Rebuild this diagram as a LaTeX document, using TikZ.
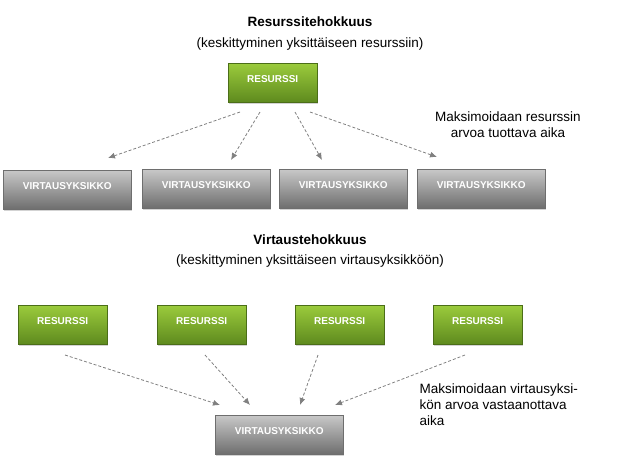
\documentclass[tikz,border=0pt]{standalone}
\usepackage{fontspec}
\setmainfont{Liberation Sans}
\usetikzlibrary{shadows,arrows.meta}
\definecolor{gA}{HTML}{9BCB3C}\definecolor{gB}{HTML}{5E8A1E}
\definecolor{sA}{HTML}{C8C8C8}\definecolor{sB}{HTML}{6E6E6E}
\tikzset{
 res/.style={minimum width=89pt,minimum height=39pt,top color=gA,bottom color=gB,draw=gB!80!black,line width=0.4pt,drop shadow={opacity=0.35,shadow xshift=1pt,shadow yshift=-2pt},font=\fontsize{10}{11}\selectfont\bfseries,text=white,anchor=north west,inner sep=0pt},
 vir/.style={minimum width=128pt,minimum height=39pt,top color=sA,bottom color=sB,draw=sB,line width=0.4pt,drop shadow={opacity=0.35,shadow xshift=1pt,shadow yshift=-2pt},font=\fontsize{10}{11}\selectfont\bfseries,text=white,anchor=north west,inner sep=0pt},
 arr/.style={densely dashed,draw=gray,line width=0.8pt,-{Latex[length=7pt,width=6pt]}},
 txt/.style={font=\fontsize{13.5}{16}\selectfont,align=center}
}
\begin{document}
\begin{tikzpicture}[x=1pt,y=-1pt]
\useasboundingbox (0,0) rectangle (620,474);
\node[txt,font=\fontsize{13.5}{16}\selectfont\bfseries] (t1) at (310,22) {Resurssitehokkuus};
\node[txt] (s1) at (310,44) {(keskittyminen yksittäiseen resurssiin)};
\node[res] (r0) at (228,63) {\raisebox{8pt}{RESURSSI}};
\node[txt] (l1) at (508,125) {Maksimoidaan resurssin\\arvoa tuottava aika};
\node[vir] (v1) at (3,170) {\raisebox{8pt}{VIRTAUSYKSIKKO}};
\node[vir] (v2) at (142,169) {\raisebox{8pt}{VIRTAUSYKSIKKO}};
\node[vir] (v3) at (279,169) {\raisebox{8pt}{VIRTAUSYKSIKKO}};
\node[vir] (v4) at (417,169) {\raisebox{8pt}{VIRTAUSYKSIKKO}};
\coordinate (a1) at (240,112); \coordinate (b1) at (108,158);
\coordinate (a2) at (260,112); \coordinate (b2) at (231,160);
\coordinate (a3) at (295,112); \coordinate (b3) at (322,160);
\coordinate (a4) at (310,112); \coordinate (b4) at (437,157);
\draw[arr] (a1) -- (b1); \draw[arr] (a2) -- (b2);
\draw[arr] (a3) -- (b3); \draw[arr] (a4) -- (b4);
\node[txt,font=\fontsize{13.5}{16}\selectfont\bfseries] (t2) at (310,240) {Virtaustehokkuus};
\node[txt] (s2) at (310,261) {(keskittyminen yksittäiseen virtausyksikköön)};
\node[res] (r1) at (18,305) {\raisebox{8pt}{RESURSSI}};
\node[res] (r2) at (157,305) {\raisebox{8pt}{RESURSSI}};
\node[res] (r3) at (295,305) {\raisebox{8pt}{RESURSSI}};
\node[res] (r4) at (433,305) {\raisebox{8pt}{RESURSSI}};
\node[vir] (v0) at (215,415) {\raisebox{8pt}{VIRTAUSYKSIKKO}};
\node[txt,align=left,anchor=west] (l2) at (416,405) {Maksimoidaan virtausyksi-\\kön arvoa vastaanottava\\aika};
\coordinate (c1) at (65,355); \coordinate (d1) at (220,405);
\coordinate (c2) at (205,355); \coordinate (d2) at (250,405);
\coordinate (c3) at (318,355); \coordinate (d3) at (300,405);
\coordinate (c4) at (465,355); \coordinate (d4) at (335,405);
\draw[arr] (c1) -- (d1); \draw[arr] (c2) -- (d2);
\draw[arr] (c3) -- (d3); \draw[arr] (c4) -- (d4);
\end{tikzpicture}
\end{document}
